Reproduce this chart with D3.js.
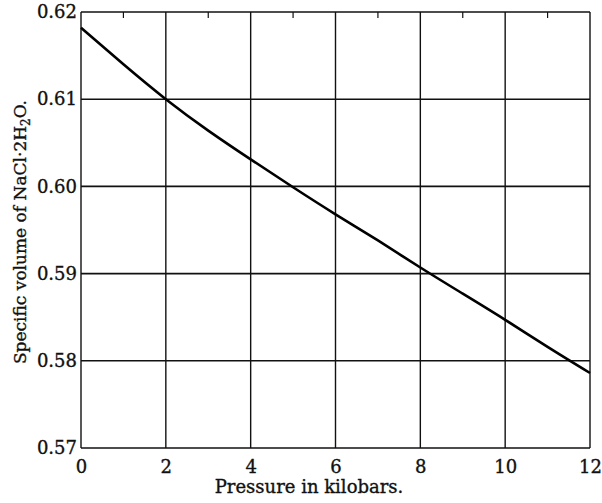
<!DOCTYPE html>
<html>
<head>
<meta charset="utf-8">
<script src="https://cdn.jsdelivr.net/npm/d3@7"></script>
<style>
  body { margin: 0; background: #fff; }
  text { font-family: "DejaVu Serif", "Liberation Serif", serif; fill: #111; stroke: #111; stroke-width: 0.35px; }
</style>
</head>
<body>
<div id="chart"></div>
<script>
// Data
var pressure = [0, 1, 2, 3, 4, 5, 6, 7, 8, 9, 10, 11, 12];
var volume = [0.6182, 0.6140, 0.6100, 0.6064, 0.6031, 0.5999, 0.5968, 0.5938, 0.5907, 0.5877, 0.5847, 0.5816, 0.5786];
var xTicks = [0, 2, 4, 6, 8, 10, 12];
var yTicks = [0.57, 0.58, 0.59, 0.60, 0.61, 0.62];
var minorTicks = [1, 3, 5, 7, 9, 11];

var svgW = 602, svgH = 503;
var margin = {top: 12, right: 12, bottom: 55, left: 81};
var w = svgW - margin.left - margin.right;
var h = svgH - margin.top - margin.bottom;

var svg = d3.select('#chart').append('svg')
  .attr('width', svgW)
  .attr('height', svgH);

var group = svg.append('g')
  .attr('transform', 'translate(' + margin.left + ',' + margin.top + ')');

var xScale = d3.scaleLinear().domain([0, 12]).range([0, w]);
var yScale = d3.scaleLinear().domain([0.57, 0.62]).range([h, 0]);

// grid
group.selectAll('.vgrid').data(xTicks).enter().append('line')
  .attr('x1', d => xScale(d)).attr('x2', d => xScale(d))
  .attr('y1', 0).attr('y2', h)
  .attr('stroke', '#111').attr('stroke-width', 1.4);

group.selectAll('.hgrid').data(yTicks).enter().append('line')
  .attr('x1', 0).attr('x2', w)
  .attr('y1', d => yScale(d)).attr('y2', d => yScale(d))
  .attr('stroke', '#111').attr('stroke-width', 1.6);

// small ticks along the top
group.selectAll('.minor').data(minorTicks).enter().append('line')
  .attr('x1', d => xScale(d)).attr('x2', d => xScale(d))
  .attr('y1', 0).attr('y2', 6)
  .attr('stroke', '#111').attr('stroke-width', 1.2);

// X-axis
var xAxis = d3.axisBottom(xScale).tickValues(xTicks).tickSize(0).tickPadding(12).tickFormat(d3.format('d'));
var gx = group.append('g').attr('transform', 'translate(0,' + h + ')').call(xAxis);
gx.select('.domain').remove();
gx.selectAll('text').style('font-size', '18px');

// Y-axis
var yAxis = d3.axisLeft(yScale).tickValues(yTicks).tickSize(0).tickPadding(4).tickFormat(d3.format('.2f'));
var gy = group.append('g').call(yAxis);
gy.select('.domain').remove();
gy.selectAll('text').style('font-size', '18px');

// curve
var line = d3.line()
  .x((d, i) => xScale(pressure[i]))
  .y(d => yScale(d))
  .curve(d3.curveNatural);

group.append('path')
  .datum(volume)
  .attr('d', line)
  .attr('fill', 'none')
  .attr('stroke', '#000')
  .attr('stroke-width', 2.6);

// labels
svg.append('text')
  .attr('x', 309)
  .attr('y', 493)
  .attr('text-anchor', 'middle')
  .style('font-size', '18px')
  .text('Pressure in kilobars.');

var yl = svg.append('text')
  .attr('transform', 'translate(26,232) rotate(-90)')
  .attr('text-anchor', 'middle')
  .style('font-size', '17px');
yl.append('tspan').text('Specific volume of NaCl·2H');
yl.append('tspan').attr('dy', 4).style('font-size', '12px').text('2');
yl.append('tspan').attr('dy', -4).text('O.');
</script>
</body>
</html>
